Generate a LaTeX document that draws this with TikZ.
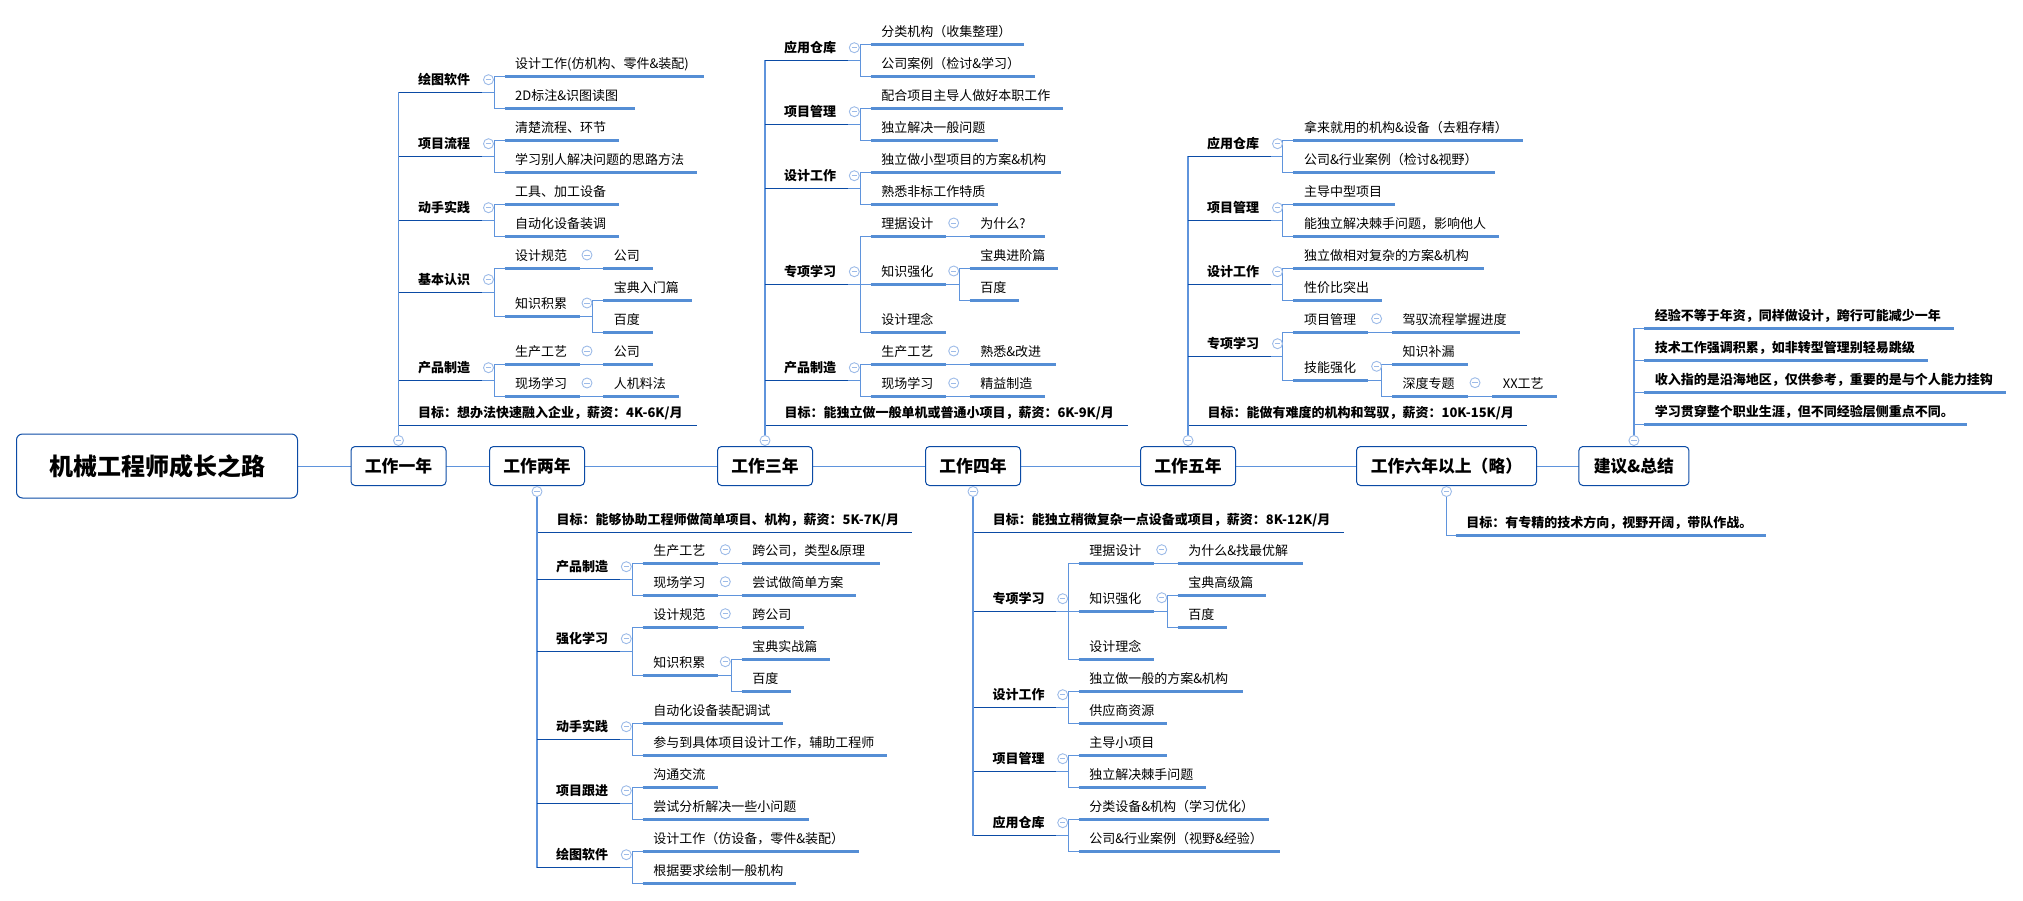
\documentclass[tikz,border=0pt]{standalone}
\usepackage{fontspec}
\setmainfont{Noto Sans CJK SC}
\usepackage{xcolor}
\usepackage{tikz}
\usetikzlibrary{positioning}
\usetikzlibrary{backgrounds}
\definecolor{boxblue}{HTML}{0B4BA5}
\definecolor{linkblue}{HTML}{5F94DC}
\definecolor{barblue}{HTML}{558ED5}
\definecolor{foldblue}{HTML}{9DBBE8}
\tikzset{
  rootbox/.style={draw=boxblue, fill=white, rounded corners=6pt, line width=1pt, outer sep=0pt,
    minimum width=281pt, minimum height=64pt, font=\fontsize{24pt}{28pt}\selectfont\bfseries},
  yearbox/.style={draw=boxblue, fill=white, rounded corners=4pt, line width=1pt, outer sep=0pt,
    minimum width=#1, minimum height=39pt, inner sep=0pt, font=\fontsize{16.8pt}{20pt}\selectfont\bfseries},
  yearbox/.default=95pt,
  fold/.style={circle, draw=foldblue, fill=white, line width=.9pt, minimum size=10pt, inner sep=0pt, outer sep=0pt,
    path picture={\draw[foldblue, line width=.9pt] ([xshift=2.4pt]path picture bounding box.west) -- ([xshift=-2.4pt]path picture bounding box.east);}},
  sub/.style={anchor=south west, inner xsep=0pt, inner ysep=5pt, text height=10pt, text depth=3pt,
    font=\fontsize{13pt}{15pt}\selectfont\bfseries,
    append after command={([xshift=-18.6pt]\tikzlastnode.south west) edge[draw=boxblue, line width=1.1pt] ([xshift=#1pt]\tikzlastnode.south west)}},
  sub/.default=63.8,
  leaf/.style={anchor=south west, inner xsep=10.4pt, inner ysep=5pt, text height=10pt, text depth=3pt,
    text width=#1pt-20.8pt, align=left, font=\fontsize{13pt}{15pt}\selectfont,
    append after command={(\tikzlastnode.south west) edge[draw=barblue, line width=2.4pt] (\tikzlastnode.south east)}},
  boldleaf/.style={leaf=#1, font=\fontsize{13pt}{15pt}\selectfont\bfseries},
  conn/.style={draw=linkblue, line width=.9pt},
  trunk/.style={draw=linkblue, line width=1.4pt},
  bracket/.style={to path={-| ([xshift=-10.5pt]\tikztotarget.south west) -- (\tikztotarget.south west)}},
}
\begin{document}
\begin{tikzpicture}[x=1pt, y=-1pt]
\useasboundingbox (0,0) rectangle (2023,900);
% main line
\node[rootbox] (root) at (157,466) {机械工程师成长之路};
\node[yearbox, right=53.5pt of root] (t1) {工作一年};
\node[yearbox, right=43.5pt of t1] (t2) {工作两年};
\node[yearbox, right=133pt of t2] (t3) {工作三年};
\node[yearbox, right=113pt of t3] (t4) {工作四年};
\node[yearbox, right=120pt of t4] (t5) {工作五年};
\node[yearbox=180pt, right=121pt of t5] (t6) {工作六年以上（略）};
\node[yearbox=110pt, right=42.4pt of t6] (t7) {建议\&总结};
% folds on the main line
\node[fold, above=1pt of t1] (f1) {};
\node[fold, below=1pt of t2] (f2) {};
\node[fold, above=1pt of t3] (f3) {};
\node[fold, below=1pt of t4] (f4) {};
\node[fold, above=1pt of t5] (f5) {};
\node[fold, below=1pt of t6] (f6) {};
\node[fold, above=1pt of t7] (f7) {};

% first year
\node[sub] (n1a) at (418,92.3) {绘图软件};
\node[fold] (f1a) at (488.5,79.7) {};
\node[leaf=198.8] (n1a1) at (504.6,76.3) {设计工作(仿机构、零件\&装配)};
\node[leaf=129.9] (n1a2) at (504.6,108.3) {2D标注\&识图读图};
\node[sub] (n1b) at (418,156.3) {项目流程};
\node[fold] (f1b) at (488.5,143.7) {};
\node[leaf=113.9] (n1b1) at (504.6,140.3) {清楚流程、环节};
\node[leaf=191.9] (n1b2) at (504.6,172.3) {学习别人解决问题的思路方法};
\node[sub] (n1c) at (418,220.3) {动手实践};
\node[fold] (f1c) at (488.5,207.7) {};
\node[leaf=113.9] (n1c1) at (504.6,204.3) {工具、加工设备};
\node[leaf=113.9] (n1c2) at (504.6,236.3) {自动化设备装调};
\node[sub] (n1d) at (418,292.3) {基本认识};
\node[fold] (f1d) at (488.5,279.5) {};
\node[leaf=74.8] (n1d1) at (504.6,268.3) {设计规范};
\node[fold] (f1d1) at (587,255) {};
\node[leaf=49.1] (n1d1a) at (603.3,268.3) {公司};
\node[leaf=74.8] (n1d2) at (504.6,316.3) {知识积累};
\node[fold] (f1d2) at (587,303) {};
\node[leaf=88.1] (n1d2a) at (603.3,300.3) {宝典入门篇};
\node[leaf=49.1] (n1d2b) at (603.3,332.3) {百度};
\node[sub] (n1e) at (418,380.3) {产品制造};
\node[fold] (f1e) at (488.5,367.7) {};
\node[leaf=74.8] (n1e1) at (504.6,364.3) {生产工艺};
\node[fold] (f1e1) at (587,351) {};
\node[leaf=49.1] (n1e1a) at (603.3,364.3) {公司};
\node[leaf=74.8] (n1e2) at (504.6,396.3) {现场学习};
\node[fold] (f1e2) at (587,383) {};
\node[leaf=75.3] (n1e2a) at (603.3,396.3) {人机料法};
\node[sub=279] (n1g) at (418,425.3) {目标：想办法快速融入企业，薪资：4K-6K/月};

% second year
\node[sub=356] (n2g) at (556.4,532.3) {目标：能够协助工程师做简单项目、机构，薪资：5K-7K/月};
\node[sub] (n2a) at (556,579.3) {产品制造};
\node[fold] (f2a) at (626.3,566.7) {};
\node[leaf=75] (n2a1) at (642.7,563.3) {生产工艺};
\node[fold] (f2a1) at (725.3,549.7) {};
\node[leaf=137.7] (n2a1a) at (741.7,563.3) {跨公司，类型\&原理};
\node[leaf=75] (n2a2) at (642.7,595.3) {现场学习};
\node[fold] (f2a2) at (725.3,581.7) {};
\node[leaf=113.7] (n2a2a) at (741.7,595.3) {尝试做简单方案};
\node[sub] (n2b) at (556,651.3) {强化学习};
\node[fold] (f2b) at (626.3,638.7) {};
\node[leaf=75] (n2b1) at (642.7,627.3) {设计规范};
\node[fold] (f2b1) at (725.3,613.7) {};
\node[leaf=61.7] (n2b1a) at (741.7,627.3) {跨公司};
\node[leaf=75] (n2b2) at (642.7,675.3) {知识积累};
\node[fold] (f2b2) at (725.3,661.7) {};
\node[leaf=87.7] (n2b2a) at (741.7,659.3) {宝典实战篇};
\node[leaf=48.7] (n2b2b) at (741.7,691.3) {百度};
\node[sub] (n2c) at (556,739.3) {动手实践};
\node[fold] (f2c) at (626.3,726.7) {};
\node[leaf=140] (n2c1) at (642.7,723.3) {自动化设备装配调试};
\node[leaf=244] (n2c2) at (642.7,755.3) {参与到具体项目设计工作，辅助工程师};
\node[sub] (n2d) at (556,803.3) {项目跟进};
\node[fold] (f2d) at (626.3,790.7) {};
\node[leaf=75] (n2d1) at (642.7,787.3) {沟通交流};
\node[leaf=165.7] (n2d2) at (642.7,819.3) {尝试分析解决一些小问题};
\node[sub] (n2e) at (556,867.3) {绘图软件};
\node[fold] (f2e) at (626.3,854.7) {};
\node[leaf=216] (n2e1) at (642.7,851.3) {设计工作（仿设备，零件\&装配）};
\node[leaf=152.7] (n2e2) at (642.7,883.3) {根据要求绘制一般机构};

% third year
\node[sub] (n3a) at (784,60.3) {应用仓库};
\node[fold] (f3a) at (854.3,47.7) {};
\node[leaf=152.7] (n3a1) at (870.7,44.3) {分类机构（收集整理）};
\node[leaf=163.7] (n3a2) at (870.7,76.3) {公司案例（检讨\&学习）};
\node[sub] (n3b) at (784,124.3) {项目管理};
\node[fold] (f3b) at (854.3,111.7) {};
\node[leaf=191.7] (n3b1) at (870.7,108.3) {配合项目主导人做好本职工作};
\node[leaf=127] (n3b2) at (870.7,140.3) {独立解决一般问题};
\node[sub] (n3c) at (784,188.3) {设计工作};
\node[fold] (f3c) at (854.3,175.7) {};
\node[leaf=189.7] (n3c1) at (870.7,172.3) {独立做小型项目的方案\&机构};
\node[leaf=127] (n3c2) at (870.7,204.3) {熟悉非标工作特质};
\node[sub] (n3d) at (784,284.3) {专项学习};
\node[fold] (f3d) at (854.3,271.7) {};
\node[leaf=75] (n3d1) at (870.7,236.3) {理据设计};
\node[fold] (f3d1) at (953.7,223) {};
\node[leaf=75] (n3d1a) at (969.7,236.3) {为什么?};
\node[leaf=75] (n3d2) at (870.7,284.3) {知识强化};
\node[fold] (f3d2) at (953.7,271) {};
\node[leaf=87.7] (n3d2a) at (969.7,268.3) {宝典进阶篇};
\node[leaf=48.7] (n3d2b) at (969.7,300.3) {百度};
\node[leaf=75] (n3d3) at (870.7,332.3) {设计理念};
\node[sub] (n3e) at (784,380.3) {产品制造};
\node[fold] (f3e) at (854.3,367.7) {};
\node[leaf=75] (n3e1) at (870.7,364.3) {生产工艺};
\node[fold] (f3e1) at (953.7,351) {};
\node[leaf=85.7] (n3e1a) at (969.7,364.3) {熟悉\&改进};
\node[leaf=75] (n3e2) at (870.7,396.3) {现场学习};
\node[fold] (f3e2) at (953.7,383) {};
\node[leaf=75] (n3e2a) at (969.7,396.3) {精益制造};
\node[sub=343.7] (n3g) at (784.3,425.3) {目标：能独立做一般单机或普通小项目，薪资：6K-9K/月};

% fourth year
\node[sub=351] (n4g) at (992.7,532.3) {目标：能独立稍微复杂一点设备或项目，薪资：8K-12K/月};
\node[sub] (n4a) at (992.4,611.3) {专项学习};
\node[fold] (f4a) at (1062.7,598.7) {};
\node[leaf=75] (n4a1) at (1078.7,563.3) {理据设计};
\node[fold] (f4a1) at (1161.7,549.7) {};
\node[leaf=125] (n4a1a) at (1177.7,563.3) {为什么\&找最优解};
\node[leaf=75] (n4a2) at (1078.7,611.3) {知识强化};
\node[fold] (f4a2) at (1161.7,597.7) {};
\node[leaf=87.7] (n4a2a) at (1177.7,595.3) {宝典高级篇};
\node[leaf=48.7] (n4a2b) at (1177.7,627.3) {百度};
\node[leaf=75] (n4a3) at (1078.7,659.3) {设计理念};
\node[sub] (n4b) at (992.4,707.3) {设计工作};
\node[fold] (f4b) at (1062.7,694.7) {};
\node[leaf=163.7] (n4b1) at (1078.7,691.3) {独立做一般的方案\&机构};
\node[leaf=88] (n4b2) at (1078.7,723.3) {供应商资源};
\node[sub] (n4c) at (992.4,771.3) {项目管理};
\node[fold] (f4c) at (1062.7,758.7) {};
\node[leaf=88] (n4c1) at (1078.7,755.3) {主导小项目};
\node[leaf=126.7] (n4c2) at (1078.7,787.3) {独立解决棘手问题};
\node[sub] (n4d) at (992.4,835.3) {应用仓库};
\node[fold] (f4d) at (1062.7,822.7) {};
\node[leaf=189.7] (n4d1) at (1078.7,819.3) {分类设备\&机构（学习优化）};
\node[leaf=200.7] (n4d2) at (1078.7,851.3) {公司\&行业案例（视野\&经验）};

% fifth year
\node[sub] (n5a) at (1207,156.3) {应用仓库};
\node[fold] (f5a) at (1277.5,143.7) {};
\node[leaf=229] (n5a1) at (1293.4,140.3) {拿来就用的机构\&设备（去粗存精）};
\node[leaf=201] (n5a2) at (1293.4,172.3) {公司\&行业案例（检讨\&视野）};
\node[sub] (n5b) at (1207,220.3) {项目管理};
\node[fold] (f5b) at (1277.5,207.7) {};
\node[leaf=100.8] (n5b1) at (1293.4,204.3) {主导中型项目};
\node[leaf=205] (n5b2) at (1293.4,236.3) {能独立解决棘手问题，影响他人};
\node[sub] (n5c) at (1207,284.3) {设计工作};
\node[fold] (f5c) at (1277.5,271.7) {};
\node[leaf=190.2] (n5c1) at (1293.4,268.3) {独立做相对复杂的方案\&机构};
\node[leaf=87.7] (n5c2) at (1293.4,300.3) {性价比突出};
\node[sub] (n5d) at (1207,356.3) {专项学习};
\node[fold] (f5d) at (1277.5,343.7) {};
\node[leaf=74.6] (n5d1) at (1293.4,332.3) {项目管理};
\node[fold] (f5d1) at (1376.6,318.7) {};
\node[leaf=127.6] (n5d1a) at (1392,332.3) {驾驭流程掌握进度};
\node[leaf=74.6] (n5d2) at (1293.4,380.3) {技能强化};
\node[fold] (f5d2) at (1376.6,366.3) {};
\node[leaf=75.2] (n5d2a) at (1392,364.3) {知识补漏};
\node[leaf=75.2] (n5d2b) at (1392,396.3) {深度专题};
\node[fold] (f5d3) at (1475,382.7) {};
\node[leaf=64.4] (n5d2c) at (1492.2,396.3) {XX工艺};
\node[sub=320] (n5g) at (1207.4,425.3) {目标：能做有难度的机构和驾驭，薪资：10K-15K/月};

% sixth year and summary
\node[boldleaf=309.8] (n6g) at (1455.7,535.3) {目标：有专精的技术方向，视野开阔，带队作战。};
\node[boldleaf=309.2] (n7a) at (1644.2,328.3) {经验不等于年资，同样做设计，跨行可能减少一年};
\node[boldleaf=283] (n7b) at (1644.2,360.3) {技术工作强调积累，如非转型管理别轻易跳级};
\node[boldleaf=361] (n7c) at (1644.2,392.3) {收入指的是沿海地区，仅供参考，重要的是与个人能力挂钩};
\node[boldleaf=322.3] (n7d) at (1644.2,424.3) {学习贯穿整个职业生涯，但不同经验层侧重点不同。};

% connectors, all behind the nodes
\begin{pgfonlayer}{background}
\foreach \from/\to in {root/t1, t1/t2, t2/t3, t3/t4, t4/t5, t5/t6, t6/t7}
  \draw[conn] (\from) -- (\to);
\foreach \f/\to in {f1/n1a, f1/n1b, f1/n1c, f1/n1d, f1/n1e, f1/n1g,
    f2/n2g, f2/n2a, f2/n2b, f2/n2c, f2/n2d, f2/n2e,
    f3/n3a, f3/n3b, f3/n3c, f3/n3d, f3/n3e, f3/n3g,
    f4/n4g, f4/n4a, f4/n4b, f4/n4c, f4/n4d,
    f5/n5a, f5/n5b, f5/n5c, f5/n5d, f5/n5g,
    f6/n6g, f7/n7a, f7/n7b, f7/n7c, f7/n7d}
  \draw[trunk] (\f) |- (\to.south);
\foreach \from/\to in {n1a/n1a1, n1a/n1a2, n1b/n1b1, n1b/n1b2, n1c/n1c1, n1c/n1c2,
    n1d/n1d1, n1d/n1d2, n1d1/n1d1a, n1d2/n1d2a, n1d2/n1d2b,
    n1e/n1e1, n1e/n1e2, n1e1/n1e1a, n1e2/n1e2a,
    n2a/n2a1, n2a/n2a2, n2a1/n2a1a, n2a2/n2a2a,
    n2b/n2b1, n2b/n2b2, n2b1/n2b1a, n2b2/n2b2a, n2b2/n2b2b,
    n2c/n2c1, n2c/n2c2, n2d/n2d1, n2d/n2d2, n2e/n2e1, n2e/n2e2,
    n3a/n3a1, n3a/n3a2, n3b/n3b1, n3b/n3b2, n3c/n3c1, n3c/n3c2,
    n3d/n3d1, n3d/n3d2, n3d/n3d3, n3d1/n3d1a, n3d2/n3d2a, n3d2/n3d2b,
    n3e/n3e1, n3e/n3e2, n3e1/n3e1a, n3e2/n3e2a,
    n4a/n4a1, n4a/n4a2, n4a/n4a3, n4a1/n4a1a, n4a2/n4a2a, n4a2/n4a2b,
    n4b/n4b1, n4b/n4b2, n4c/n4c1, n4c/n4c2, n4d/n4d1, n4d/n4d2,
    n5a/n5a1, n5a/n5a2, n5b/n5b1, n5b/n5b2, n5c/n5c1, n5c/n5c2,
    n5d/n5d1, n5d/n5d2, n5d1/n5d1a, n5d2/n5d2a, n5d2/n5d2b, n5d2b/n5d2c}
  \draw[conn] (\from.south) to[bracket] (\to);
\end{pgfonlayer}
\end{tikzpicture}
\end{document}
